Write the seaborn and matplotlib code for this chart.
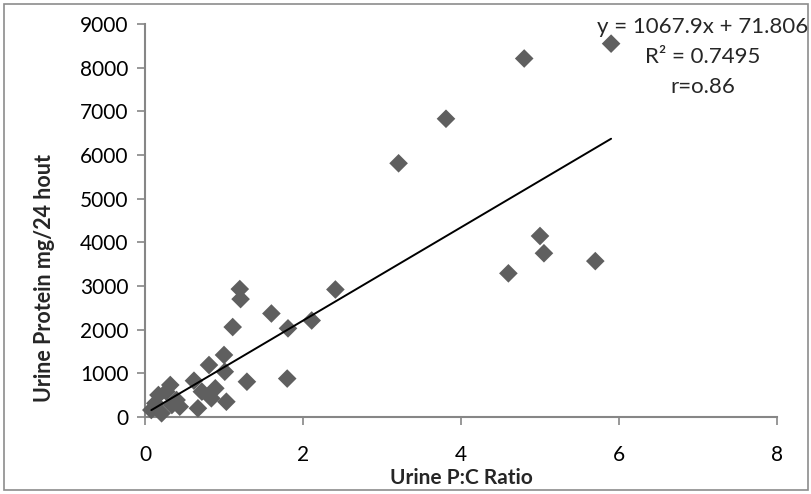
import numpy as np
import pandas as pd
import matplotlib

matplotlib.use('Agg')
import matplotlib.pyplot as plt
import seaborn as sns
from matplotlib.patches import Rectangle

# 尿蛋白/肌酐比 与 24 小时尿蛋白
pc_ratio = [0.08, 0.13, 0.17, 0.21, 0.27, 0.32, 0.34, 0.40, 0.44, 0.62,
            0.67, 0.72, 0.81, 0.84, 0.89, 1.00, 1.01, 1.03, 1.11, 1.20,
            1.21, 1.29, 1.60, 1.80, 1.81, 2.11, 2.41, 3.21, 3.81, 4.60,
            4.80, 5.00, 5.05, 5.70, 5.90]
protein_24h = [160, 314, 504, 85, 580, 733, 275, 389, 236, 831,
               199, 580, 1190, 428, 657, 1420, 1037, 350, 2060, 2930,
               2700, 808, 2370, 880, 2030, 2210, 2920, 5810, 6830, 3290,
               8210, 4145, 3750, 3570, 8550]

# Excel 趋势线系数
slope = 1067.9
intercept = 71.806
eq_lines = ['y = 1067.9x + 71.806', 'R² = 0.7495', 'r=o.86']

x_ticks = [0, 2, 4, 6, 8]
y_ticks = list(range(0, 9001, 1000))

sns.set_theme(style="white")
plt.rcParams['font.family'] = ['Lato', 'DejaVu Sans']

df = pd.DataFrame({'ratio': pc_ratio, 'protein': protein_24h})
x_fit = np.array([df['ratio'].min(), df['ratio'].max()])
fit_df = pd.DataFrame({'ratio': x_fit, 'protein': slope * x_fit + intercept})

fig = plt.figure(figsize=(8.12, 4.94), dpi=100)
ax = fig.add_axes([145 / 812, 77 / 494, 632 / 812, 393 / 494])

sns.scatterplot(data=df, x='ratio', y='protein', marker='D', s=90,
                color='#5f5f5f', edgecolor='none', ax=ax, clip_on=False, zorder=3)
sns.lineplot(data=fit_df, x='ratio', y='protein', color='black', lw=1.4,
             ax=ax, zorder=4)

ax.set_xlim(0, 8)
ax.set_ylim(0, 9000)
ax.set_xticks(x_ticks)
ax.set_yticks(y_ticks)
ax.tick_params(axis='both', labelsize=15, colors='#868686', labelcolor='black',
               direction='out', length=6, width=1.2, bottom=True, left=True)
ax.tick_params(axis='x', pad=14)
ax.tick_params(axis='y', pad=6)
for side in ['top', 'right']:
    ax.spines[side].set_visible(False)
for side in ['left', 'bottom']:
    ax.spines[side].set_color('#868686')
    ax.spines[side].set_linewidth(1.5)

ax.set_xlabel('')
ax.set_ylabel('')
fig.text(461 / 812, 1 - 478 / 494, 'Urine P:C Ratio', ha='center', va='center',
         fontsize=15, fontweight='bold')
fig.text(45 / 812, 1 - 278 / 494, 'Urine Protein mg/24 hout', rotation=90,
         ha='center', va='center', fontsize=15.5, fontweight='bold')

# 趋势线公式
for i, line in enumerate(eq_lines):
    fig.text(703 / 812, 1 - (27 + i * 30) / 494, line, ha='center', va='center',
             fontsize=16)

# 图表外框
fig.patches.append(Rectangle((4 / 812, 4 / 494), 804 / 812, 486 / 494,
                             transform=fig.transFigure, fill=False,
                             edgecolor='#8c8c8c', lw=1.2))

plt.savefig('out.png', dpi=100)
plt.close()
